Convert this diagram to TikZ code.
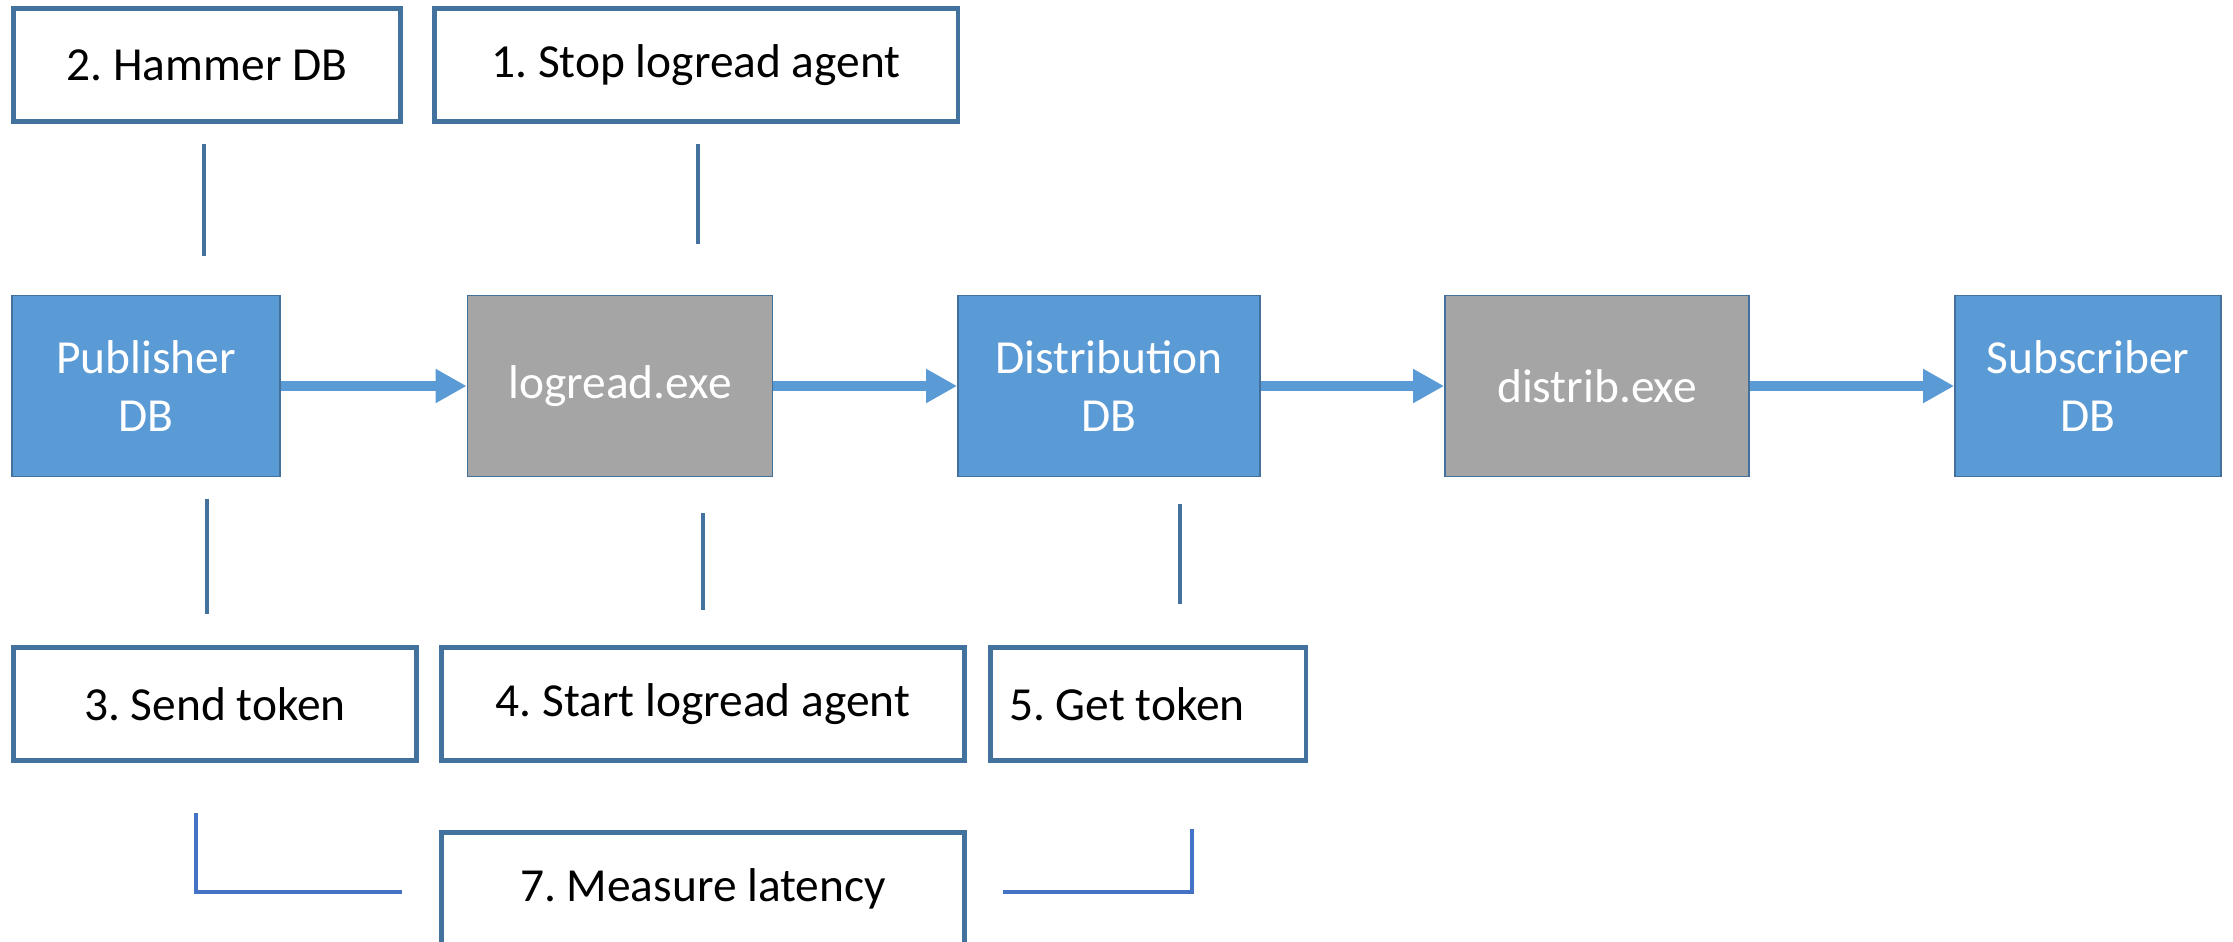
\documentclass[tikz,border=0pt]{standalone}
\usepackage{fontspec}
\setmainfont{Carlito}
\usepackage{tikz}
\usetikzlibrary{arrows.meta}
\usetikzlibrary{positioning}
\frenchspacing

\begin{document}
\begin{tikzpicture}[x=0.02cm, y=-0.02cm,
  every node/.style={font=\fontsize{27}{33}\selectfont, align=center, inner sep=0pt},
  db/.style={draw=boxedge, fill=dbblue, text=white, line width=1pt, minimum height=3.62cm},
  exe/.style={draw=boxedge, fill=exegray, text=white, line width=1pt, minimum height=3.62cm},
  stepbox/.style={draw=stepedge, fill=white, line width=2.8pt, minimum height=2.27cm},
  flow/.style={draw=dbblue, line width=0.2cm, -{Triangle[length=0.62cm, width=0.64cm]}},
  tick/.style={draw=stepedge, line width=2pt},
  latency/.style={draw=latblue, line width=2.5pt}]
  \definecolor{dbblue}{RGB}{91,155,213}
  \definecolor{exegray}{RGB}{165,165,165}
  \definecolor{boxedge}{RGB}{65,113,156}
  \definecolor{stepedge}{RGB}{68,114,158}
  \definecolor{latblue}{RGB}{68,114,196}

  \def\row{386}
  \useasboundingbox (0,0) rectangle (2233,941);

  % steps above
  \node[stepbox, minimum width=7.73cm] (hammer) at (207,65) {2. Hammer DB};
  \node[stepbox, minimum width=10.48cm] (stop) at (696,65) {1. Stop logread agent};

  % main chain
  \node[db, minimum width=5.35cm] (pub) at (146,\row) {Publisher\\DB};
  \node[exe, minimum width=6.1cm] (logread) at (620,\row) {logread.exe};
  \node[db, minimum width=6.04cm] (distdb) at (1109,\row) {Distribution\\DB};
  \node[exe, minimum width=6.08cm] (distrib) at (1597,\row) {distrib.exe};
  \node[db, minimum width=5.32cm] (sub) at (2088,\row) {Subscriber\\DB};

  \draw[flow] (pub) -- (logread);
  \draw[flow] (logread) -- (distdb);
  \draw[flow] (distdb) -- (distrib);
  \draw[flow] (distrib) -- (sub);

  % steps below
  \node[stepbox, minimum width=8.06cm] (send) at (215,704) {3. Send token};
  \node[stepbox, minimum width=10.46cm] (start) at (703,704) {4. Start logread agent};
  \node[stepbox, minimum width=6.32cm] (get) at (1148,704) {5. Get token\hspace*{0.84cm}};
  \node[stepbox, minimum width=10.46cm] (measure) at (703,889) {7. Measure latency};

  % ticks between rows
  \coordinate (hammerA) at (204,144);
  \coordinate (hammerB) at (204,256);
  \coordinate (stopA) at (698,144);
  \coordinate (stopB) at (698,244);
  \coordinate (sendA) at (207,499);
  \coordinate (sendB) at (207,614);
  \coordinate (startA) at (703,513);
  \coordinate (startB) at (703,610);
  \coordinate (getA) at (1180,504);
  \coordinate (getB) at (1180,604);
  \draw[tick] (hammerA) -- (hammerB);
  \draw[tick] (stopA) -- (stopB);
  \draw[tick] (sendA) -- (sendB);
  \draw[tick] (startA) -- (startB);
  \draw[tick] (getA) -- (getB);

  % latency brackets
  \coordinate (latL) at (196,813);
  \coordinate (latLend) at (402,892);
  \coordinate (latR) at (1003,892);
  \coordinate (latRend) at (1192,829);
  \draw[latency] (latL) |- (latLend);
  \draw[latency] (latR) -| (latRend);

\end{tikzpicture}
\end{document}
